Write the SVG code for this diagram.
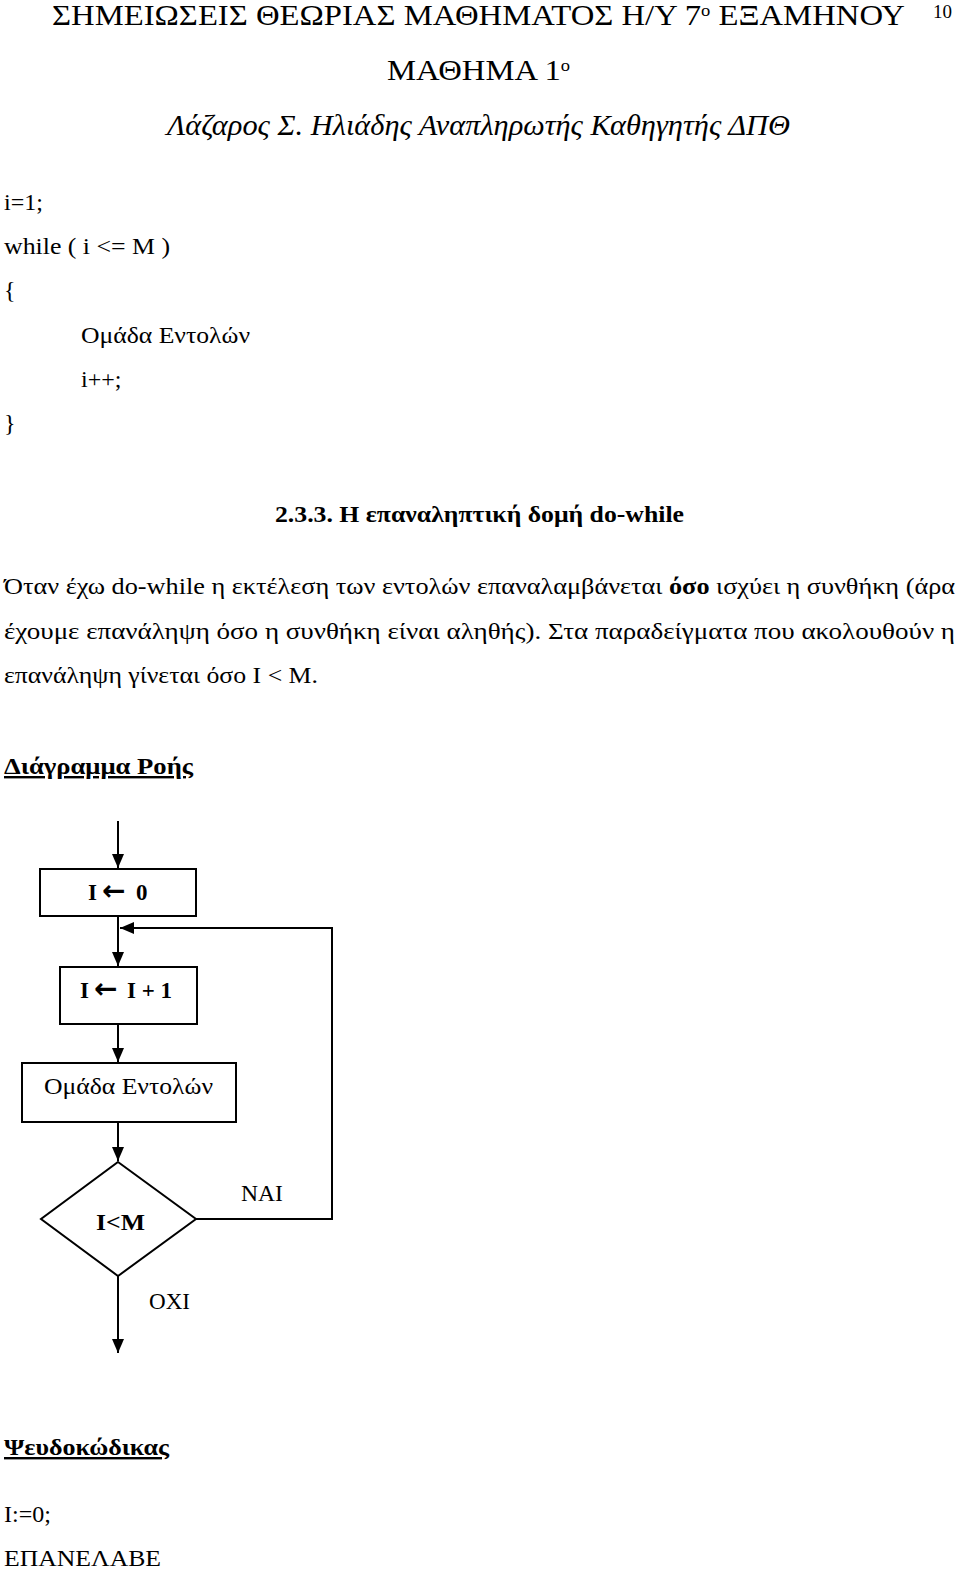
<svg xmlns="http://www.w3.org/2000/svg" width="960" height="1572" viewBox="0 0 960 1572">
<defs>
<marker id="ah" viewBox="0 0 14 12" refX="14" refY="6" markerWidth="14" markerHeight="12" markerUnits="userSpaceOnUse" orient="auto">
<path d="M0,0 L14,6 L0,12 z" fill="#000"/>
</marker>
</defs>
<style>
text{font-family:"Liberation Serif","DejaVu Serif Condensed","DejaVu Serif","Times New Roman",serif;fill:#000}
.hd{font-size:30px}
.b{font-size:24px}
.bb{font-size:24px;font-weight:bold}
.fc{font-size:23px;font-weight:bold}
.fn{font-size:23px}
.ar{font-family:"DejaVu Sans",sans-serif;font-size:28px;font-weight:bold}
.box{fill:#fff;stroke:#000;stroke-width:2}
.ln{fill:none;stroke:#000;stroke-width:2}
</style>
<rect width="960" height="1572" fill="#fff"/>
<text class="hd" x="52" y="25" textLength="853" lengthAdjust="spacingAndGlyphs">ΣΗΜΕΙΩΣΕΙΣ ΘΕΩΡΙΑΣ ΜΑΘΗΜΑΤΟΣ Η/Υ 7<tspan font-size="17" dy="-9">ο</tspan><tspan dy="9"> ΕΞΑΜΗΝΟΥ</tspan></text>
<text x="933" y="18" font-size="19">10</text>
<text class="hd" x="387" y="80" textLength="183" lengthAdjust="spacingAndGlyphs">ΜΑΘΗΜΑ 1<tspan font-size="17" dy="-9">ο</tspan></text>
<text class="hd" x="167" y="135" font-style="italic" textLength="623" lengthAdjust="spacingAndGlyphs">Λάζαρος Σ. Ηλιάδης Αναπληρωτής Καθηγητής ΔΠΘ</text>
<text class="b" x="4" y="210">i=1;</text>
<text class="b" x="4" y="254" textLength="166" lengthAdjust="spacingAndGlyphs">while ( i &lt;= M )</text>
<text class="b" x="4" y="298">{</text>
<text class="b" x="81" y="343" textLength="169" lengthAdjust="spacingAndGlyphs">Ομάδα Εντολών</text>
<text class="b" x="81" y="387">i++;</text>
<text class="b" x="4" y="431">}</text>
<text class="bb" x="275" y="522" textLength="409" lengthAdjust="spacingAndGlyphs">2.3.3. Η επαναληπτική δομή do-while</text>
<text class="b" x="4" y="594" textLength="951" lengthAdjust="spacingAndGlyphs">Όταν έχω do-while η εκτέλεση των εντολών επαναλαμβάνεται <tspan font-weight="bold">όσο</tspan> ισχύει η συνθήκη (άρα</text>
<text class="b" x="4" y="639" textLength="951" lengthAdjust="spacingAndGlyphs">έχουμε επανάληψη όσο η συνθήκη είναι αληθής). Στα παραδείγματα που ακολουθούν η</text>
<text class="b" x="4" y="683" textLength="314" lengthAdjust="spacingAndGlyphs">επανάληψη γίνεται όσο Ι &lt; Μ.</text>
<text class="bb" x="4" y="774" text-decoration="underline" textLength="189" lengthAdjust="spacingAndGlyphs"> Διάγραμμα Ροής</text>
<g id="connectors">
<line class="ln" x1="118" y1="821" x2="118" y2="868" marker-end="url(#ah)"/>
<line class="ln" x1="118" y1="916" x2="118" y2="966" marker-end="url(#ah)"/>
<polyline class="ln" points="196,1219 332,1219 332,928 120,928" marker-end="url(#ah)"/>
<line class="ln" x1="118" y1="1024" x2="118" y2="1062" marker-end="url(#ah)"/>
<line class="ln" x1="118" y1="1122" x2="118" y2="1161" marker-end="url(#ah)"/>
<line class="ln" x1="118" y1="1276" x2="118" y2="1353" marker-end="url(#ah)"/>
<text class="fn" x="241" y="1201" textLength="42" lengthAdjust="spacingAndGlyphs">ΝΑΙ</text>
<text class="fn" x="149" y="1309" textLength="41" lengthAdjust="spacingAndGlyphs">ΟΧΙ</text>
</g>
<g id="n1">
<rect class="box" x="40" y="869" width="156" height="47"/>
<text class="fc" x="88" y="900">Ι</text>
<text class="ar" x="102" y="900">←</text>
<text class="fc" x="136" y="900">0</text>
</g>
<g id="n2">
<rect class="box" x="60" y="967" width="137" height="57"/>
<text class="fc" x="80" y="998">Ι</text>
<text class="ar" x="94" y="998">←</text>
<text class="fc" x="127" y="998">Ι + 1</text>
</g>
<g id="n3">
<rect class="box" x="22" y="1063" width="214" height="59"/>
<text class="fn" x="44" y="1094" textLength="169" lengthAdjust="spacingAndGlyphs">Ομάδα Εντολών</text>
</g>
<g id="n4">
<polygon class="box" points="118,1162 196,1219 118,1276 41,1219"/>
<text class="fc" x="96" y="1230" textLength="49" lengthAdjust="spacingAndGlyphs">Ι&lt;Μ</text>
</g>
<text class="bb" x="4" y="1455" text-decoration="underline" textLength="165" lengthAdjust="spacingAndGlyphs">Ψευδοκώδικας</text>
<text class="b" x="4" y="1522">Ι:=0;</text>
<text class="b" x="4" y="1566" textLength="157" lengthAdjust="spacingAndGlyphs">ΕΠΑΝΕΛΑΒΕ</text>
</svg>
